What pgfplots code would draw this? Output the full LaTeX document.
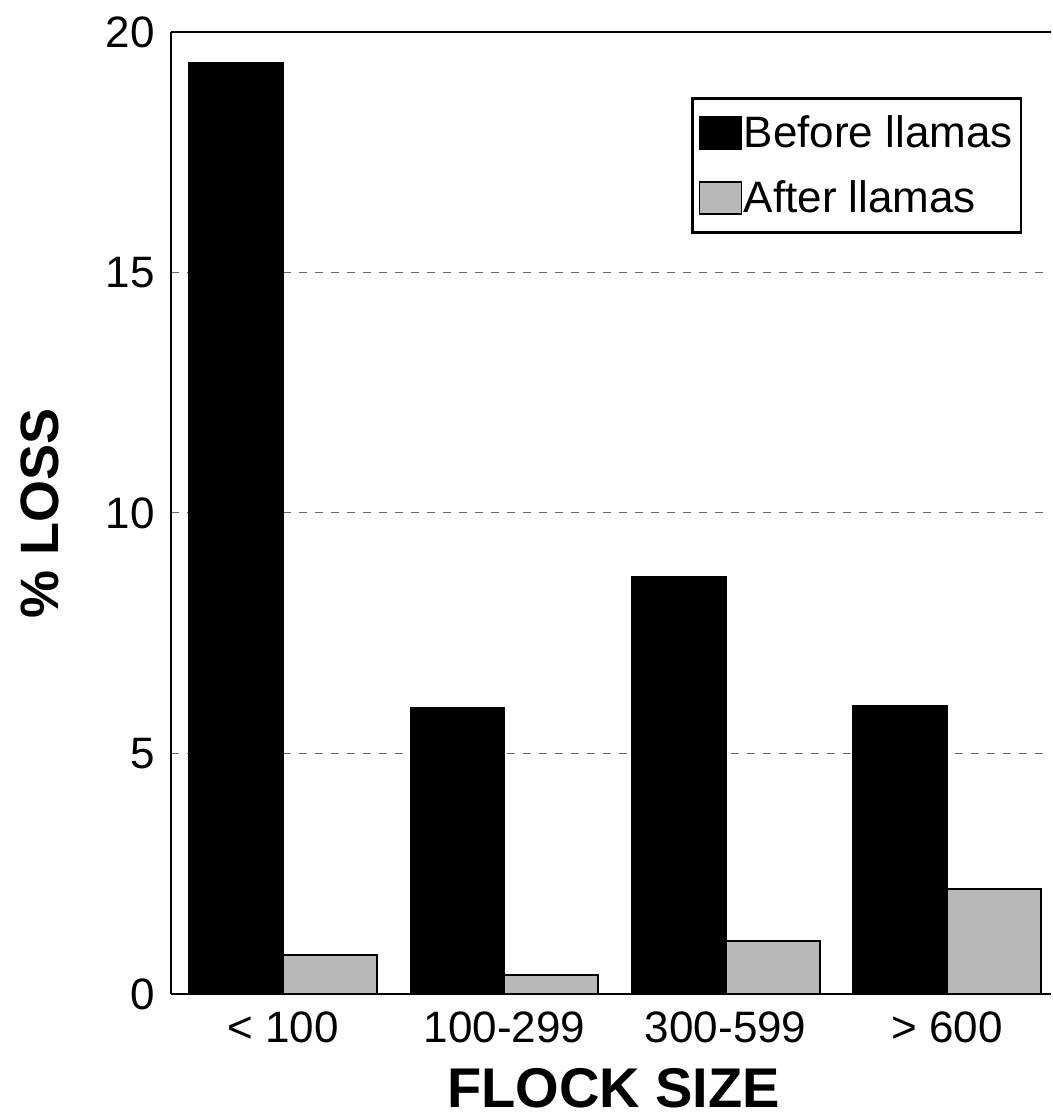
\documentclass[border=0pt]{standalone}
\usepackage{fontspec}
\setmainfont{Liberation Sans}
\usepackage{pgfplots}
\pgfplotsset{compat=1.18}
\definecolor{aftergray}{gray}{0.72}
\begin{document}
\begin{tikzpicture}
\begin{axis}[
  width=440pt, height=481pt, scale only axis,
  ybar=0pt, bar width=47pt,
  xmin=-0.507, xmax=3.47,
  ymin=0, ymax=20,
  ytick={0,5,10,15,20},
  xtick={0,1,2,3},
  xticklabels={{< 100},{100-299},{300-599},{> 600}},
  major tick length=0pt,
  axis lines*=left,
  axis line style={line width=1.4pt},
  ymajorgrids, grid style={dash pattern=on 4pt off 4pt, gray!80!black, line width=0.5pt},
  /pgf/number format/assume math mode=true,
  tick label style={font=\fontsize{22}{26}\selectfont, inner sep=0pt},
  yticklabel style={anchor=east, xshift=-8pt},
  xticklabel style={anchor=base, yshift=-24pt},
  xlabel={\textbf{FLOCK SIZE}},
  ylabel={\textbf{\% LOSS}},
  every axis x label/.style={at={(axis description cs:0.503,-0.1175)}, anchor=base, inner sep=0pt,
     font=\fontsize{28}{32}\selectfont},
  every axis y label/.style={at={(axis description cs:-0.149,0.5)}, anchor=center, rotate=90, inner sep=0pt,
     font=\fontsize{27}{31}\selectfont},
  legend style={at={(0.967,0.932)}, anchor=north east, draw=black, line width=1.2pt,
    font=\fontsize{22}{26}\selectfont, inner xsep=3pt, inner ysep=6.5pt, row sep=11pt,
    nodes={inner xsep=1pt}},
  legend cell align=left,
  legend image code/.code={\draw[#1, line width=0.6pt] (0pt,-8pt) rectangle (21pt,8pt);},
  clip=false,
]
\addplot[fill=black, draw=black, line width=0.8pt] coordinates {(0,19.36) (1,5.95) (2,8.67) (3,5.99)};
\addplot[fill=aftergray, draw=black, line width=1pt] coordinates {(0,0.81) (1,0.40) (2,1.10) (3,2.18)};
\legend{Before llamas, After llamas}
\draw[line width=1.4pt] (rel axis cs:0,1) -- (rel axis cs:1,1);
\path (rel axis cs:0,0) ++(-85.5pt,-62pt);
\path (rel axis cs:0,1) ++(0pt,16pt);
\end{axis}
\end{tikzpicture}
\end{document}
